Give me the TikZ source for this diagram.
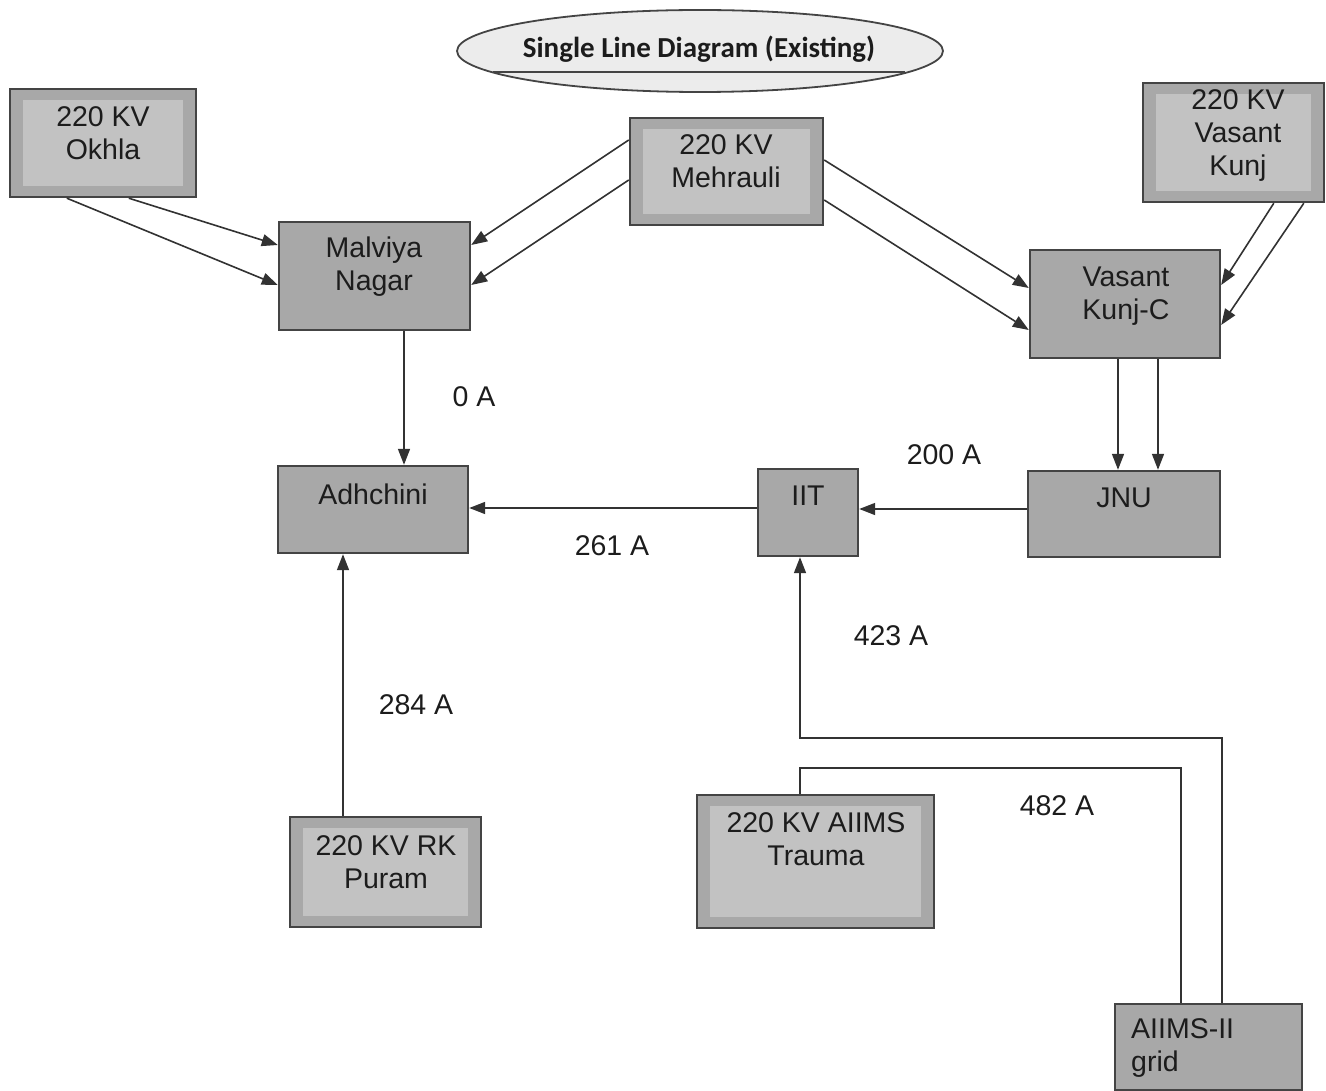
\documentclass[tikz,border=0pt]{standalone}
\usepackage{fontspec}
\setmainfont{Liberation Sans}
\newfontfamily\titlefont{Carlito}
\usetikzlibrary{arrows.meta,shapes.geometric,calc}
\definecolor{boxfill}{RGB}{168,168,168}
\definecolor{innerfill}{RGB}{194,194,194}
\definecolor{boxline}{RGB}{68,68,68}
\definecolor{wire}{RGB}{50,50,50}
\definecolor{titlefill}{RGB}{236,236,236}
\definecolor{txt}{RGB}{28,28,28}
\tikzset{
  stbox/.style={draw=boxline, line width=2.4pt, fill=boxfill, rectangle, inner sep=0pt},
  srcbox/.style={stbox, path picture={\fill[innerfill]
      ([shift={(13pt,-11pt)}]path picture bounding box.north west) rectangle
      ([shift={(-13pt,11pt)}]path picture bounding box.south east);}},
  boxtext/.style={text=txt, align=center, font=\fontsize{28.5}{33}\selectfont, inner sep=0pt},
  amp/.style={text=txt, font=\fontsize{28.5}{32}\selectfont, inner sep=0pt},
  wireline/.style={draw=wire, line width=1.6pt},
  arr/.style={wireline, -{Triangle[length=16pt,width=12pt]}},
}
\begin{document}
\begin{tikzpicture}[x=1pt,y=-1pt]
\useasboundingbox[fill=white] (0,0) rectangle (1326,1091);

% title
\node[ellipse, draw=boxline, line width=1.8pt, fill=titlefill, minimum width=486pt, minimum height=82pt, inner sep=0pt] (title) at (700,51) {};
\node[text=txt, font=\titlefont\bfseries\fontsize{29}{34}\selectfont, inner sep=0pt] (titletext) at (699,49) {Single Line Diagram (Existing)};
\draw[draw=boxline, line width=1.2pt] (493,72) -- (905,72);

% boxes
\node[srcbox, minimum width=186pt, minimum height=108pt] (okhla) at (103,143) {};
\node[stbox, minimum width=191pt, minimum height=108pt] (mal) at (374.5,276) {};
\node[srcbox, minimum width=193pt, minimum height=107pt] (meh) at (726.5,171.5) {};
\node[srcbox, minimum width=181pt, minimum height=119pt] (vk) at (1233.5,142.5) {};
\node[stbox, minimum width=190pt, minimum height=108pt] (vkc) at (1125,304) {};
\node[stbox, minimum width=190pt, minimum height=87pt] (adh) at (373,509.5) {};
\node[stbox, minimum width=100pt, minimum height=87pt] (iit) at (808,512.5) {};
\node[stbox, minimum width=192pt, minimum height=86pt] (jnu) at (1124,514) {};
\node[srcbox, minimum width=191pt, minimum height=110pt] (rk) at (385.5,872) {};
\node[srcbox, minimum width=237pt, minimum height=133pt] (tra) at (815.5,861.5) {};
\node[stbox, minimum width=187pt, minimum height=86pt] (aiims) at (1208.5,1047) {};

% box texts
\node[boxtext] (okhlat) at (103,133.5) {220 KV\\Okhla};
\node[boxtext] (malt) at (374,266.5) {Malviya\\Nagar};
\node[boxtext] (meht) at (726,161.5) {220 KV\\Mehrauli};
\node[boxtext] (vkt) at (1238,135.5) {220 KV\\Vasant\\Kunj};
\node[boxtext] (vkct) at (1126,296) {Vasant\\Kunj-C};
\node[boxtext] (adht) at (373,494) {Adhchini};
\node[boxtext] (iitt) at (808,496) {IIT};
\node[boxtext] (jnut) at (1124,498) {JNU};
\node[boxtext] (rkt) at (386,862) {220 KV RK\\Puram};
\node[boxtext] (trat) at (816,839) {220 KV AIIMS\\Trauma};
\node[boxtext, align=left, anchor=west] (aiimst) at (1131,1048.5) {AIIMS-II\\grid};

% current labels
\node[amp] (l0) at (474,397) {0 A};
\node[amp] (l200) at (944,455) {200 A};
\node[amp] (l261) at (612,546) {261 A};
\node[amp] (l423) at (891,636) {423 A};
\node[amp] (l284) at (416,705) {284 A};
\node[amp] (l482) at (1057,806) {482 A};

% connectors
\draw[arr] ([xshift=58pt]okhla.south west) -- ([yshift=-9pt]mal.west);
\draw[arr] ([xshift=120pt]okhla.south west) -- ([yshift=31pt]mal.west);
\draw[arr] ([yshift=31.5pt]meh.west) -- ([yshift=31pt]mal.east);
\draw[arr] ([yshift=-8.5pt]meh.west) -- ([yshift=-9pt]mal.east);
\draw[arr] ([yshift=11.5pt]meh.east) -- ([yshift=16pt]vkc.west);
\draw[arr] ([yshift=-28.5pt]meh.east) -- ([yshift=-26pt]vkc.west);
\draw[arr] ([xshift=132pt]vk.south west) -- ([yshift=19pt]vkc.east);
\draw[arr] ([xshift=162pt]vk.south west) -- ([yshift=-21pt]vkc.east);
\draw[arr] ([xshift=-7pt]vkc.south) -- ([xshift=-7pt]vkc.south |- jnu.north);
\draw[arr] ([xshift=33pt]vkc.south) -- ([xshift=33pt]vkc.south |- jnu.north);
\draw[arr] ([xshift=29.5pt]mal.south) -- ([xshift=29.5pt]mal.south |- adh.north);
\draw[arr] ([yshift=5pt]jnu.west) -- ([yshift=5pt]jnu.west -| iit.east);
\draw[arr] ([yshift=4.5pt]iit.west) -- ([yshift=4.5pt]iit.west -| adh.east);
\draw[arr] ([xshift=-42.5pt]rk.north) -- ([xshift=-42.5pt]rk.north |- adh.south);
\coordinate (j1) at (800,738);
\coordinate (j2) at (800,768);
\draw[arr] ([xshift=13.5pt]aiims.north) |- (j1) -- (j1 |- iit.south);
\draw[wireline] ([xshift=-27.5pt]aiims.north) |- (j2) -- (j2 |- tra.north);
\end{tikzpicture}
\end{document}
